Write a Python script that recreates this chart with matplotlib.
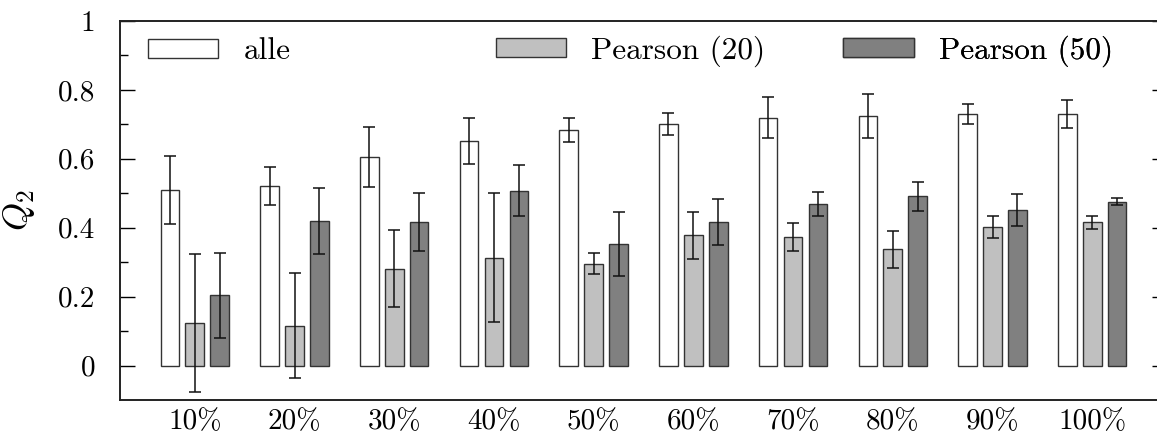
import matplotlib
matplotlib.use("Agg")
import matplotlib.pyplot as plt
import numpy as np
from matplotlib.patches import Patch

plt.rcParams['font.family'] = ['cmr10', 'DejaVu Serif']
plt.rcParams['mathtext.fontset'] = 'cm'
plt.rcParams['axes.unicode_minus'] = False

categories = ["10%", "20%", "30%", "40%", "50%", "60%", "70%", "80%", "90%", "100%"]
series_names = ["alle", "Pearson (20)", "Pearson (50)"]

alle = [0.510, 0.522, 0.605, 0.652, 0.683, 0.700, 0.719, 0.724, 0.731, 0.729]
alle_err = [0.099, 0.055, 0.087, 0.067, 0.035, 0.032, 0.059, 0.065, 0.029, 0.041]
p20 = [0.123, 0.116, 0.281, 0.313, 0.296, 0.378, 0.374, 0.337, 0.401, 0.416]
p20_err = [0.201, 0.153, 0.112, 0.187, 0.030, 0.069, 0.041, 0.054, 0.032, 0.019]
p50 = [0.204, 0.419, 0.417, 0.508, 0.352, 0.417, 0.469, 0.491, 0.452, 0.476]
p50_err = [0.123, 0.096, 0.085, 0.073, 0.093, 0.067, 0.034, 0.042, 0.046, 0.010]

yticks = [0, 0.2, 0.4, 0.6, 0.8, 1]
ytick_labels = ["0", "0.2", "0.4", "0.6", "0.8", "1"]

values = [alle, p20, p50]
errors = [alle_err, p20_err, p50_err]
colors = ["#ffffff", "#c0c0c0", "#808080"]
offsets = [-0.25, 0.0, 0.25]
width = 0.1875

fig = plt.figure(figsize=(11.57, 4.36), dpi=100)
ax = fig.add_axes([120/1157, 36/436, 1047/1157, 379/436])

x = np.arange(1, len(categories) + 1)
handles = []
for vals, errs, col, off, name in zip(values, errors, colors, offsets, series_names):
    ax.bar(x + off, vals, width=width, color=col, edgecolor="#333333", linewidth=1.0, zorder=2)
    ax.errorbar(x + off, vals, yerr=errs, fmt='none', ecolor='#111111', elinewidth=1.1,
                capsize=4, capthick=1.1, zorder=3)
    handles.append(Patch(facecolor=col, edgecolor="#333333", linewidth=1.0, label=name))

ax.set_xlim(0.25, 10.75)
ax.set_ylim(-0.1, 1.0)
ax.set_xticks(x)
ax.set_xticklabels(categories, fontsize=21)
ax.set_yticks(yticks)
ax.set_yticklabels(ytick_labels, fontsize=21)
ax.set_yticks([0.1, 0.3, 0.5, 0.7, 0.9], minor=True)
ax.tick_params(axis='x', length=0, pad=6)
ax.tick_params(axis='y', which='major', direction='in', length=11, width=1.0, right=True, pad=18)
ax.tick_params(axis='y', which='minor', direction='in', length=6, width=1.0, right=False)
for s in ax.spines.values():
    s.set_linewidth(1.4)
    s.set_color('#222222')

ax.set_ylabel(r"$Q_2$", fontsize=26)
ax.yaxis.set_label_coords(-0.079, 0.5)

anchors = [0.0267, 0.359, 0.691]
for h, ax_x in zip(handles, anchors):
    leg = ax.legend(handles=[h], loc='center left', bbox_to_anchor=(ax_x, 0.92),
                    frameon=False, fontsize=22.5, handlelength=2.25, handleheight=0.56,
                    handletextpad=0.8, borderpad=0, borderaxespad=0)
    ax.add_artist(leg)

fig.savefig("out.png", dpi=100)
